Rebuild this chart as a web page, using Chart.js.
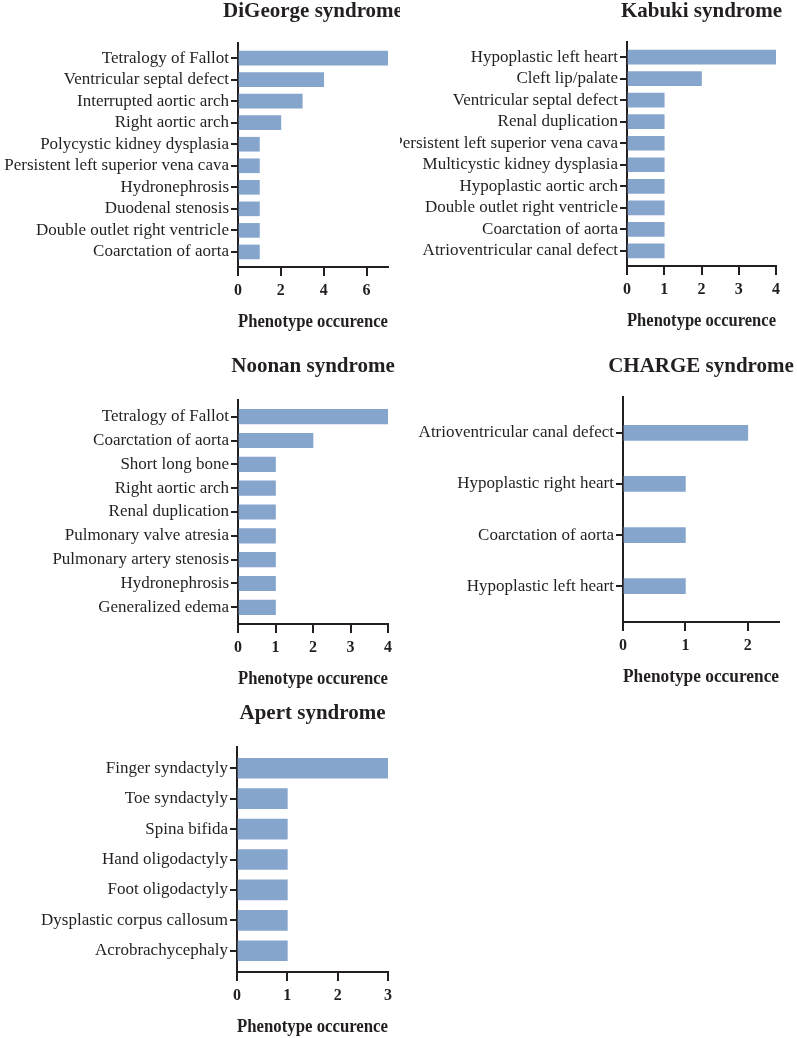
<!DOCTYPE html>
<html>
<head>
<meta charset="utf-8">
<script src="https://cdn.jsdelivr.net/npm/chart.js@4"></script>
<style>
  html, body { margin: 0; padding: 0; background: #fff; }
  #wrap { position: relative; width: 797px; height: 1038px; }
  .panel { position: absolute; }
</style>
</head>
<body>
<div id="wrap">
  <div class="panel" style="left:0;top:0;width:400px;height:340px"><canvas id="digeorge"></canvas></div>
  <div class="panel" style="left:400px;top:0;width:397px;height:340px"><canvas id="kabuki"></canvas></div>
  <div class="panel" style="left:0;top:340px;width:400px;height:350px"><canvas id="noonan"></canvas></div>
  <div class="panel" style="left:400px;top:340px;width:397px;height:350px"><canvas id="charge"></canvas></div>
  <div class="panel" style="left:0;top:690px;width:400px;height:348px"><canvas id="apert"></canvas></div>
</div>
<script>
// Data
const digeorgeLabels = [
  'Tetralogy of Fallot', 'Ventricular septal defect', 'Interrupted aortic arch',
  'Right aortic arch', 'Polycystic kidney dysplasia', 'Persistent left superior vena cava',
  'Hydronephrosis', 'Duodenal stenosis', 'Double outlet right ventricle', 'Coarctation of aorta'
]
const digeorgeValues = [7, 4, 3, 2, 1, 1, 1, 1, 1, 1]
const digeorgeTicks = [0, 2, 4, 6]

const kabukiLabels = [
  'Hypoplastic left heart', 'Cleft lip/palate', 'Ventricular septal defect',
  'Renal duplication', 'Persistent left superior vena cava', 'Multicystic kidney dysplasia',
  'Hypoplastic aortic arch', 'Double outlet right ventricle', 'Coarctation of aorta',
  'Atrioventricular canal defect'
]
const kabukiValues = [4, 2, 1, 1, 1, 1, 1, 1, 1, 1]
const kabukiTicks = [0, 1, 2, 3, 4]

const noonanLabels = [
  'Tetralogy of Fallot', 'Coarctation of aorta', 'Short long bone', 'Right aortic arch',
  'Renal duplication', 'Pulmonary valve atresia', 'Pulmonary artery stenosis',
  'Hydronephrosis', 'Generalized edema'
]
const noonanValues = [4, 2, 1, 1, 1, 1, 1, 1, 1]
const noonanTicks = [0, 1, 2, 3, 4]

const chargeLabels = [
  'Atrioventricular canal defect', 'Hypoplastic right heart', 'Coarctation of aorta',
  'Hypoplastic left heart'
]
const chargeValues = [2, 1, 1, 1]
const chargeTicks = [0, 1, 2]

const apertLabels = [
  'Finger syndactyly', 'Toe syndactyly', 'Spina bifida', 'Hand oligodactyly',
  'Foot oligodactyly', 'Dysplastic corpus callosum', 'Acrobrachycephaly'
]
const apertValues = [3, 1, 1, 1, 1, 1, 1]
const apertTicks = [0, 1, 2, 3]

const ink = '#231f20'
const barColor = '#86a5cd'
const serif = '"Liberation Serif", "Times New Roman", serif'

// title centred over the plot area, like the original figure
const panelTitle = {
  id: 'panelTitle',
  afterDraw(chart, args, opts) {
    const { ctx, chartArea } = chart
    ctx.save()
    ctx.font = 'bold 21px ' + serif
    ctx.fillStyle = ink
    ctx.textAlign = 'center'
    ctx.textBaseline = 'alphabetic'
    ctx.fillText(opts.text, (chartArea.left + chartArea.right) / 2, opts.y)
    ctx.restore()
  }
}

function makePanel(id, title, labels, values, ticks, xMax, layout) {
  const ctx = document.getElementById(id)
  return new Chart(ctx, {
    type: 'bar',
    data: {
      datasets: [{
        data: values.map((v, i) => ({ x: v, y: i })),
        backgroundColor: barColor,
        borderWidth: 0,
        barThickness: layout.bar
      }]
    },
    options: {
      indexAxis: 'y',
      responsive: true,
      maintainAspectRatio: false,
      animation: false,
      layout: { padding: { top: layout.top, right: layout.right, bottom: layout.bottom, left: 0 } },
      scales: {
        y: {
          type: 'linear',
          reverse: true,
          offset: false,
          min: -0.7,
          max: labels.length - 1 + 0.7,
          afterBuildTicks: (axis) => { axis.ticks = labels.map((_, i) => ({ value: i })) },
          afterFit: (axis) => { axis.width = layout.yWidth },
          ticks: {
            autoSkip: false,
            callback: (v) => labels[v],
            color: ink,
            padding: 2,
            font: { family: serif, size: 17 }
          },
          grid: { offset: false, drawOnChartArea: false, drawTicks: true, tickLength: 7, lineWidth: 2, color: ink },
          border: { display: true, color: ink, width: 2 }
        },
        x: {
          type: 'linear',
          min: 0,
          max: xMax,
          afterBuildTicks: (axis) => { axis.ticks = ticks.map((t) => ({ value: t })) },
          afterFit: (axis) => { axis.height = 66 },
          ticks: {
            color: ink,
            padding: 5,
            font: { family: serif, size: 16, weight: 'bold' }
          },
          grid: { drawOnChartArea: false, drawTicks: true, tickLength: 9, lineWidth: 2, color: ink },
          border: { display: true, color: ink, width: 2 },
          title: {
            display: true,
            text: 'Phenotype occurence',
            color: ink,
            padding: 0,
            font: { family: serif, size: 18, weight: 'bold' }
          }
        }
      },
      plugins: {
        legend: { display: false },
        tooltip: { enabled: false },
        panelTitle: { text: title, y: layout.titleY }
      }
    },
    plugins: [panelTitle]
  })
}

makePanel('digeorge', 'DiGeorge syndrome', digeorgeLabels, digeorgeValues, digeorgeTicks, 7,
  { yWidth: 238, top: 43, right: 12, bottom: 7, bar: 14, titleY: 17 })
makePanel('kabuki', 'Kabuki syndrome', kabukiLabels, kabukiValues, kabukiTicks, 4,
  { yWidth: 227, top: 42, right: 21, bottom: 8, bar: 14, titleY: 17 })
makePanel('noonan', 'Noonan syndrome', noonanLabels, noonanValues, noonanTicks, 4,
  { yWidth: 238, top: 60, right: 12, bottom: 0, bar: 14.5, titleY: 32 })
makePanel('charge', 'CHARGE syndrome', chargeLabels, chargeValues, chargeTicks, 2.5,
  { yWidth: 223, top: 57, right: 18, bottom: 2, bar: 15, titleY: 32 })
makePanel('apert', 'Apert syndrome', apertLabels, apertValues, apertTicks, 3,
  { yWidth: 237, top: 57, right: 12, bottom: 0, bar: 20, titleY: 29 })
</script>
</body>
</html>
